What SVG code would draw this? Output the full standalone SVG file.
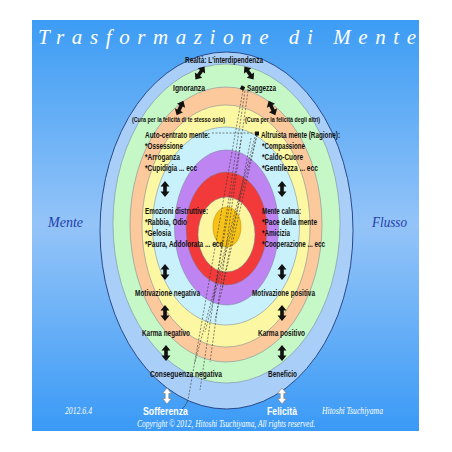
<svg xmlns="http://www.w3.org/2000/svg" xmlns:xlink="http://www.w3.org/1999/xlink" width="452" height="452" viewBox="0 0 452 452">
<defs>
<linearGradient id="bg" x1="0" y1="0" x2="0" y2="1">
<stop offset="0" stop-color="#3c9cf4"/>
<stop offset="0.5" stop-color="#94c4f8"/>
<stop offset="1" stop-color="#3a9af6"/>
</linearGradient>
<path id="darr" d="M0,-8 L4.5,-2.5 L1.8,-2.5 L1.8,2.5 L4.5,2.5 L0,8 L-4.5,2.5 L-1.8,2.5 L-1.8,-2.5 L-4.5,-2.5 Z"/>
<style>
.ring{stroke:#6d7f95;stroke-width:0.5}
.lb{font-family:"Liberation Sans",Arial,sans-serif;font-weight:bold;font-size:8.5px;fill:#111}
.sm{font-family:"Liberation Sans",Arial,sans-serif;font-weight:bold;font-size:6.5px;fill:#111}
.wb{font-family:"Liberation Sans",Arial,sans-serif;font-weight:bold;font-size:11px;fill:#fff}
.it{font-family:"Liberation Serif","Times New Roman",serif;font-style:italic}
.ba{fill:#111}
.wa{fill:#fff;stroke:#777;stroke-width:0.6}
.dl{fill:none;stroke:#333;stroke-width:0.6;stroke-dasharray:2 1.5}
</style>
</defs>
<rect x="0" y="0" width="452" height="452" fill="#fff"/>
<rect x="32" y="20" width="387" height="411" fill="url(#bg)"/>
<text class="it" x="38" y="44" font-size="21" fill="#fff" textLength="378" lengthAdjust="spacing">Trasformazione  di  Mente</text>

<g id="rings">
<ellipse cx="226.5" cy="230.5" rx="126.5" ry="178.5" fill="#a9cef8" stroke="#2a4a8a" stroke-width="1"/>
<ellipse class="ring" cx="226.5" cy="223.5" rx="113.5" ry="159.5" fill="#c6f7c6"/>
<ellipse class="ring" cx="226" cy="224.5" rx="96" ry="137.5" fill="#fbc99b"/>
<ellipse class="ring" cx="226" cy="226" rx="84" ry="121" fill="#fcf7a3"/>
<ellipse class="ring" cx="226" cy="226" rx="73.5" ry="99" fill="#c9f1fb"/>
<ellipse class="ring" cx="226.5" cy="227.5" rx="52" ry="77.5" fill="#be85f2"/>
<ellipse class="ring" cx="226.5" cy="228.5" rx="40.5" ry="56.5" fill="#f23a3a"/>
<ellipse class="ring" cx="226.5" cy="234.5" rx="28.5" ry="37.5" fill="#fdf6a0"/>
<ellipse cx="227" cy="227" rx="14" ry="20" fill="#f7c218" stroke="#c98f00" stroke-width="0.6"/>
</g>

<g id="connectors">
<path class="dl" d="M212,133 L256,133"/>
<path class="dl" d="M243,90 L188,400"/>
<path class="dl" d="M245,91 L200,390"/>
<path class="dl" d="M248,91 L210,362"/>
<path class="dl" d="M257,135 L205,332"/>
<path class="dl" d="M257,135 L215,320"/>
<path class="dl" d="M255,137 L195,362"/>
<path class="dl" d="M251,138 L222,290"/>
<path class="dl" d="M241,140 L213,300"/>
<path d="M188,400 Q186,406 182,409" fill="none" stroke="#333" stroke-width="0.6"/>
<rect x="240.5" y="86" width="4" height="4" fill="#111" transform="rotate(30 242.5 88)"/>
<rect x="255" y="131.5" width="4" height="4" fill="#111"/>
</g>

<g id="arrows">
<use xlink:href="#darr" class="ba" transform="translate(200,73) rotate(35)"/>
<use xlink:href="#darr" class="ba" transform="translate(249,73) rotate(-35)"/>
<use xlink:href="#darr" class="ba" transform="translate(180,108) rotate(25)"/>
<use xlink:href="#darr" class="ba" transform="translate(272,108) rotate(-25)"/>
<use xlink:href="#darr" class="ba" transform="translate(165,189)"/>
<use xlink:href="#darr" class="ba" transform="translate(282,189)"/>
<use xlink:href="#darr" class="ba" transform="translate(165,272)"/>
<use xlink:href="#darr" class="ba" transform="translate(282,272)"/>
<use xlink:href="#darr" class="ba" transform="translate(165,313)"/>
<use xlink:href="#darr" class="ba" transform="translate(282,313)"/>
<use xlink:href="#darr" class="ba" transform="translate(166,353)"/>
<use xlink:href="#darr" class="ba" transform="translate(282,353)"/>
<use xlink:href="#darr" class="wa" transform="translate(167,396)"/>
<use xlink:href="#darr" class="wa" transform="translate(282,396)"/>
</g>

<g id="top">
<text class="lb" x="185" y="63" textLength="78" lengthAdjust="spacingAndGlyphs">Realtà: L'interdipendenza</text>
<text class="lb" x="173" y="91" textLength="32" lengthAdjust="spacingAndGlyphs">Ignoranza</text>
<text class="lb" x="247" y="91" textLength="29" lengthAdjust="spacingAndGlyphs">Saggezza</text>
<text class="sm" x="132" y="122" textLength="93" lengthAdjust="spacingAndGlyphs">(Cura per la felicità di te stesso solo)</text>
<text class="sm" x="245" y="122" textLength="75" lengthAdjust="spacingAndGlyphs">(Cura per la felicità degli altri)</text>
</g>

<g id="left-mind">
<text class="lb" x="145" y="138" textLength="65" lengthAdjust="spacingAndGlyphs">Auto-centrato mente:</text>
<text class="lb" x="145" y="149" textLength="38" lengthAdjust="spacingAndGlyphs">*Ossessione</text>
<text class="lb" x="145" y="160" textLength="35" lengthAdjust="spacingAndGlyphs">*Arroganza</text>
<text class="lb" x="145" y="171" textLength="52" lengthAdjust="spacingAndGlyphs">*Cupidigia ... ecc</text>
</g>
<g id="right-mind">
<text class="lb" x="261" y="138" textLength="79" lengthAdjust="spacingAndGlyphs">Altruista mente (Ragione):</text>
<text class="lb" x="262" y="149" textLength="43" lengthAdjust="spacingAndGlyphs">*Compassione</text>
<text class="lb" x="262" y="160" textLength="41" lengthAdjust="spacingAndGlyphs">*Caldo-Cuore</text>
<text class="lb" x="262" y="171" textLength="56" lengthAdjust="spacingAndGlyphs">*Gentilezza ... ecc</text>
</g>
<g id="left-emotions">
<text class="lb" x="145" y="214" textLength="63" lengthAdjust="spacingAndGlyphs">Emozioni distruttive:</text>
<text class="lb" x="145" y="225" textLength="42" lengthAdjust="spacingAndGlyphs">*Rabbia, Odio</text>
<text class="lb" x="145" y="236" textLength="26" lengthAdjust="spacingAndGlyphs">*Gelosia</text>
<text class="lb" x="145" y="247" textLength="78" lengthAdjust="spacingAndGlyphs">*Paura, Addolorata ... ecc</text>
</g>
<g id="right-emotions">
<text class="lb" x="262" y="214" textLength="39" lengthAdjust="spacingAndGlyphs">Mente calma:</text>
<text class="lb" x="262" y="225" textLength="55" lengthAdjust="spacingAndGlyphs">*Pace della mente</text>
<text class="lb" x="262" y="236" textLength="28" lengthAdjust="spacingAndGlyphs">*Amicizia</text>
<text class="lb" x="262" y="247" textLength="63" lengthAdjust="spacingAndGlyphs">*Cooperazione ... ecc</text>
</g>
<g id="stages">
<text class="lb" x="135" y="296" textLength="65" lengthAdjust="spacingAndGlyphs">Motivazione negativa</text>
<text class="lb" x="252" y="296" textLength="63" lengthAdjust="spacingAndGlyphs">Motivazione positiva</text>
<text class="lb" x="142" y="336" textLength="48" lengthAdjust="spacingAndGlyphs">Karma negativo</text>
<text class="lb" x="258" y="336" textLength="47" lengthAdjust="spacingAndGlyphs">Karma positivo</text>
<text class="lb" x="150" y="377" textLength="72" lengthAdjust="spacingAndGlyphs">Conseguenza negativa</text>
<text class="lb" x="268" y="377" textLength="29" lengthAdjust="spacingAndGlyphs">Beneficio</text>
<text class="wb" x="143" y="415" textLength="45" lengthAdjust="spacingAndGlyphs">Sofferenza</text>
<text class="wb" x="267" y="415" textLength="30" lengthAdjust="spacingAndGlyphs">Felicità</text>
</g>
<g id="side">
<text class="it" x="48" y="227" font-size="15" fill="#1f3fa8" textLength="35" lengthAdjust="spacingAndGlyphs">Mente</text>
<text class="it" x="372" y="227" font-size="15" fill="#1f3fa8" textLength="35" lengthAdjust="spacingAndGlyphs">Flusso</text>
<text class="it" x="65" y="414" font-size="10" fill="#fff" textLength="27" lengthAdjust="spacingAndGlyphs">2012.6.4</text>
<text class="it" x="322" y="414" font-size="10" fill="#fff" textLength="61" lengthAdjust="spacingAndGlyphs">Hitoshi Tsuchiyama</text>
<text class="it" x="137" y="427" font-size="10" fill="#fff" textLength="178" lengthAdjust="spacingAndGlyphs">Copyright © 2012, Hitoshi Tsuchiyama, All rights reserved.</text>
</g>
</svg>
